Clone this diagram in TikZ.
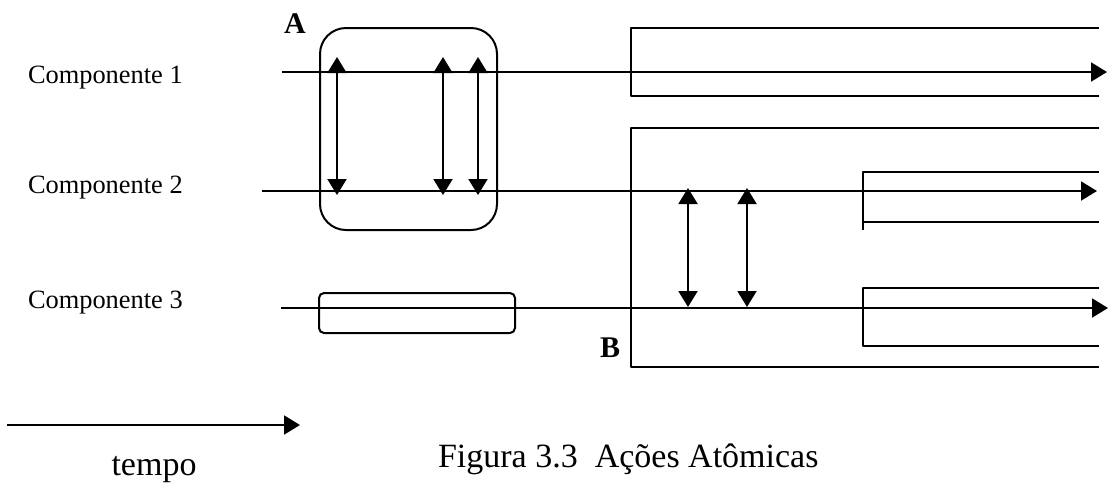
\documentclass[tikz,border=0pt]{standalone}
\usepackage{fontspec}
\setmainfont{Liberation Serif}
\usetikzlibrary{arrows.meta}
\begin{document}
\begin{tikzpicture}[x=0.5pt, y=-0.5pt, line width=1pt, line join=round, >={Triangle[length=8pt,width=9.5pt]},
		lbl/.style={anchor=base west, inner sep=0pt},
		letra/.style={lbl, font=\fontsize{15}{17}\selectfont\bfseries}]
	\useasboundingbox (0,0) rectangle (1109,488);
	\path (282,72) coordinate (L1) (1107,72) coordinate (R1)
	(262,191) coordinate (L2) (1097,191) coordinate (R2)
	(281,308) coordinate (L3) (1108,308) coordinate (R3);
	\foreach \i/\y in {1/83,2/193,3/308}{
		\node[lbl, font=\fontsize{13.2}{15}\selectfont] (comp\i) at (27,\y) {Componente \i};
		\draw[->] (L\i) -- (R\i);
	}
	% acao atomica A
	\node[letra] (A) at (283,33) {A};
	\draw[rounded corners=13pt] (320,28) rectangle (497,230);
	\foreach \x in {337,443,478}{
		\draw[<->] (\x,57) -- (\x,195);
	}
	\draw[rounded corners=2.5pt] (319,293) rectangle (515,333);
	% acao atomica B
	\node[letra] (B) at (599,357) {B};
	\draw (1099,28) -- (631,28) -- (631,96) -- (1099,96);
	\draw (1099,128) -- (631,128) -- (631,367) -- (1099,367);
	\draw (1099,172) -- (863,172) -- (863,230) (863,222) -- (1099,222);
	\draw (1099,288) -- (863,288) -- (863,346) -- (1099,346);
	\foreach \x in {688,747}{
		\draw[<->] (\x,188) -- (\x,307);
	}
	% tempo
	\path (7,425) coordinate (T0) (300,425) coordinate (T1);
	\draw[->] (T0) -- (T1);
	\node[anchor=base, inner sep=0pt, font=\fontsize{17}{19}\selectfont] (tempo) at (154,475) {tempo};
	\node[lbl, font=\fontsize{17}{19}\selectfont] (legenda) at (437,467) {Figura 3.3\ \ Ações Atômicas};
\end{tikzpicture}
\end{document}
